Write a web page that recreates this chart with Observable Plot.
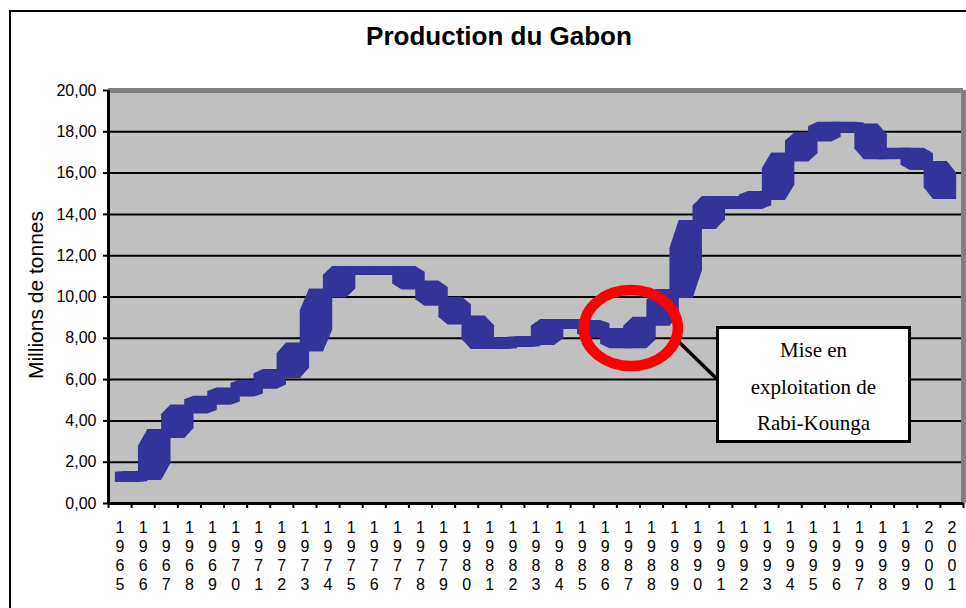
<!DOCTYPE html>
<html>
<head>
<meta charset="utf-8">
<script src="https://cdn.jsdelivr.net/npm/d3@7"></script>
<script src="https://cdn.jsdelivr.net/npm/@observablehq/plot@0.6"></script>
<style>
  html, body { margin: 0; padding: 0; background: #fff; }
  body { width: 966px; height: 608px; overflow: hidden; position: relative;
         font-family: "Liberation Sans", Arial, sans-serif; }
  #chart { position: absolute; left: 0; top: 0; }
  #border { position: absolute; left: 9px; top: 10px; width: 1100px; height: 800px;
            border-left: 2px solid #000; border-top: 2px solid #000; pointer-events: none; }
  #title { position: absolute; left: 0; width: 998px; top: 23px; text-align: center;
           font-weight: bold; font-size: 26px; line-height: 26px; color: #000; }
  #note { position: absolute; left: 716px; top: 326px; width: 195px; height: 117px;
          box-sizing: border-box; border: 3px solid #000; background: #fff; }
  #noteText { box-sizing: border-box; padding-top: 3px;
          font-family: "Liberation Serif", "Times New Roman", serif; font-size: 21px;
          line-height: 36.5px; text-align: center; color: #000; }
</style>
</head>
<body>
<div id="chart"></div>
<div id="border"></div>
<div id="title"></div>
<div id="note"><div id="noteText"></div></div>
<script>
// ---- data ----
const years = [1965, 1966, 1967, 1968, 1969, 1970, 1971, 1972, 1973, 1974,
               1975, 1976, 1977, 1978, 1979, 1980, 1981, 1982, 1983, 1984,
               1985, 1986, 1987, 1988, 1989, 1990, 1991, 1992, 1993, 1994,
               1995, 1996, 1997, 1998, 1999, 2000, 2001];
const production = [1.24, 1.33, 3.37, 4.55, 4.97, 5.37, 5.75, 6.27, 7.55, 10.17,
                    11.26, 11.26, 11.26, 10.56, 9.77, 8.86, 7.68, 7.77, 7.87, 8.69,
                    8.64, 8.26, 7.71, 8.80, 10.15, 13.49, 14.65, 14.46, 14.89, 16.76,
                    17.73, 18.25, 18.16, 16.86, 16.98, 16.34, 14.94];
const yTicks = [0, 2, 4, 6, 8, 10, 12, 14, 16, 18, 20];
const titleText = "Production du Gabon";
const yLabel = "Millions de tonnes";
const noteLines = ["Mise en", "exploitation de", "Rabi-Kounga"];
const noteTarget = {year: 1987.13, value: 8.47};

// ---- layout / style ----
const W = 966, H = 608;
const M = {top: 90, right: 3, bottom: 105, left: 108};
const xDomain = [years[0] - 0.5, years[years.length - 1] + 0.5];
const yDomain = [0, 20];
const pxPerYear = (W - M.left - M.right) / (xDomain[1] - xDomain[0]);
const pxPerUnit = (H - M.top - M.bottom) / (yDomain[1] - yDomain[0]);
const halfPenX = 4.7, halfPenY = 4.5, cutPx = 9.3;
const lineColor = "#333399";

// thick Excel-like pen: each segment drawn as a block with two cut corners
const hx = halfPenX / pxPerYear, hy = halfPenY / pxPerUnit, cx = cutPx / pxPerYear;
const segments = [];
for (let k = 0; k < years.length - 1; k++) {
  const x0 = years[k], x1 = years[k + 1];
  const v0 = production[k], v1 = production[k + 1];
  const top = Math.max(v0, v1) + hy, bot = Math.min(v0, v1) - hy;
  const cut = cx * Math.abs(v1 - v0) / (x1 - x0);
  const rising = v1 >= v0;
  segments.push(
    {seg: k, x: x0 - hx,      lo: rising ? bot : bot + cut, hi: rising ? top - cut : top},
    {seg: k, x: x0 - hx + cx, lo: bot, hi: top},
    {seg: k, x: x1 + hx - cx, lo: bot, hi: top},
    {seg: k, x: x1 + hx,      lo: rising ? bot + cut : bot, hi: rising ? top : top - cut}
  );
}
const boundaries = [...years.map(y => y - 0.5), years[years.length - 1] + 0.5];
const fmt = d => d.toFixed(2).replace(".", ",");

function annotation(index, scales) {
  const ex = scales.x(noteTarget.year), ey = scales.y(noteTarget.value);
  const g = d3.create("svg:g");
  g.append("line")
    .attr("x1", ex + 46).attr("y1", ey + 12)
    .attr("x2", ex + 86).attr("y2", ey + 51)
    .attr("stroke", "#000").attr("stroke-width", 3.5);
  g.append("ellipse")
    .attr("cx", ex).attr("cy", ey).attr("rx", 47).attr("ry", 38)
    .attr("fill", "none").attr("stroke", "#ff0000").attr("stroke-width", 10.5);
  return g.node();
}

const plot = Plot.plot({
  width: W, height: H,
  marginTop: M.top, marginRight: M.right, marginBottom: M.bottom, marginLeft: M.left,
  style: {background: "transparent", fontFamily: "Liberation Sans, Arial, sans-serif", color: "#000"},
  x: {type: "linear", domain: xDomain, label: null},
  y: {domain: yDomain, label: null},
  marks: [
    Plot.frame({fill: "#c0c0c0", stroke: "none"}),
    Plot.gridY(yTicks.filter(v => v > 0 && v < 20), {stroke: "#000", strokeOpacity: 1, strokeWidth: 2}),
    Plot.ruleY([yDomain[1]], {stroke: "#808080", strokeWidth: 5}),
    Plot.ruleX([xDomain[1]], {stroke: "#808080", strokeWidth: 5}),
    Plot.areaY(segments, {x: "x", y1: "lo", y2: "hi", z: "seg", fill: lineColor, curve: "linear"}),
    Plot.ruleX([xDomain[0]], {stroke: "#000", strokeWidth: 3}),
    Plot.ruleY([yDomain[0]], {stroke: "#000", strokeWidth: 3}),
    Plot.axisY(yTicks, {tickSize: 5, tickPadding: 7, tickFormat: fmt, fontSize: 16, strokeWidth: 2, label: null}),
    Plot.axisX(boundaries, {tickSize: 5, tickFormat: () => "", strokeWidth: 2, label: null}),
    Plot.axisX(years, {tickSize: 0, tickPadding: 16, tickFormat: y => String(y).split("").join("\n"),
                       fontSize: 16, lineHeight: 1.19, label: null}),
    Plot.text([yLabel], {text: d => d, frameAnchor: "left", textAnchor: "middle", lineAnchor: "middle",
                         dx: -72, dy: -2, rotate: -90, fontSize: 21, fill: "#000"}),
    annotation
  ]
});
document.getElementById("chart").appendChild(plot);
document.getElementById("title").textContent = titleText;
const noteText = document.getElementById("noteText");
noteLines.forEach(t => { const d = document.createElement("div"); d.textContent = t; noteText.appendChild(d); });
</script>
</body>
</html>
